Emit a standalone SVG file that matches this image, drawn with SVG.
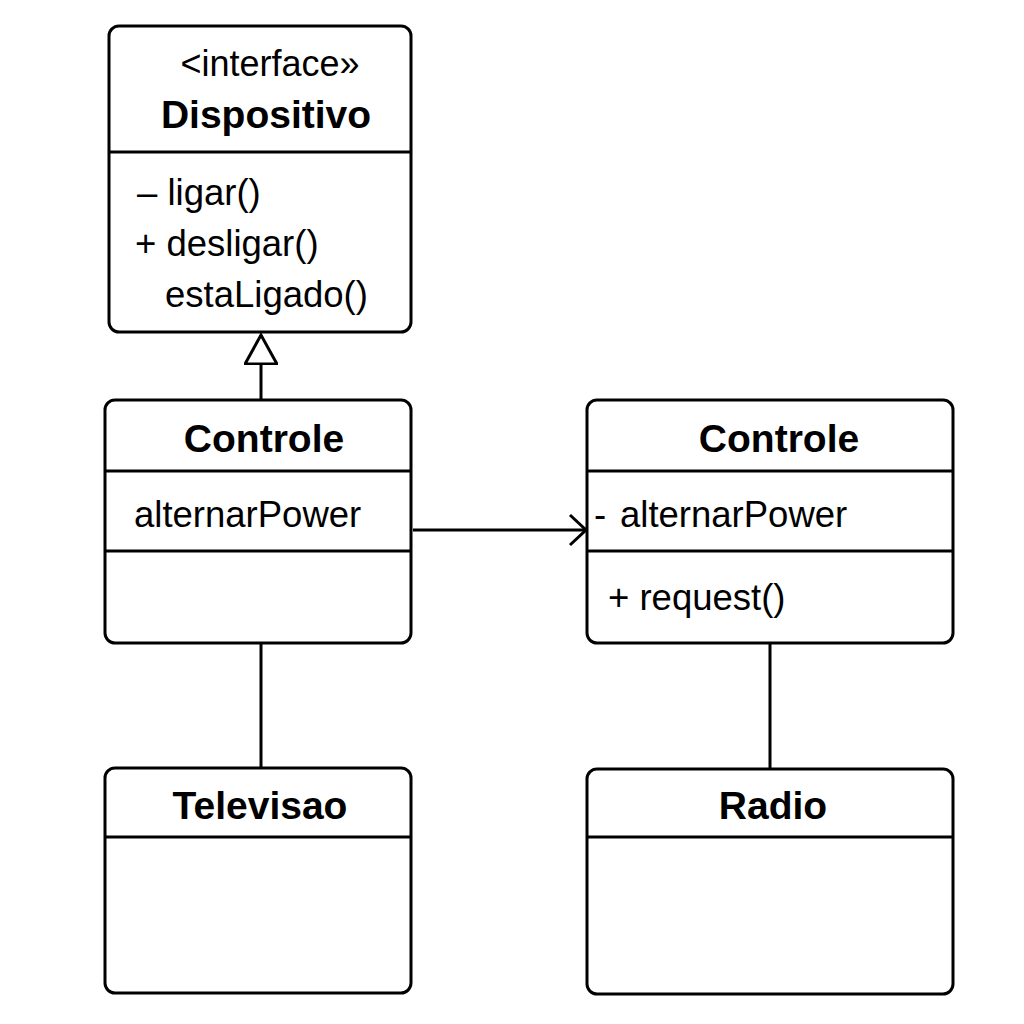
<svg xmlns="http://www.w3.org/2000/svg" width="1024" height="1024" viewBox="0 0 1024 1024">
<style>
.box{fill:#fff;stroke:#000;stroke-width:3}
.div{stroke:#000;stroke-width:3}
.t{font-family:"Liberation Sans",Arial,sans-serif;font-size:36.5px;fill:#000}
.b{font-family:"Liberation Sans",Arial,sans-serif;font-size:39px;font-weight:bold;fill:#000;text-anchor:middle}
.c{stroke:#000;stroke-width:3;fill:none}
</style>
<defs>
<marker id="tri" markerWidth="44" markerHeight="34" refX="30" refY="17" orient="auto" markerUnits="userSpaceOnUse">
<path d="M1,1 L30,17 L1,33 Z" fill="#fff" stroke="#000" stroke-width="3"/>
</marker>
<marker id="open" markerWidth="24" markerHeight="36" refX="18" refY="18" orient="auto" markerUnits="userSpaceOnUse">
<path d="M2,3 L18,18 L2,33" fill="none" stroke="#000" stroke-width="3"/>
</marker>
</defs>
<rect width="1024" height="1024" fill="#fff"/>
<g id="connectors">
<line class="c" x1="261" y1="400" x2="261" y2="335" marker-end="url(#tri)"/>
<line class="c" x1="413" y1="530" x2="586" y2="530" marker-end="url(#open)"/>
<line class="c" x1="261" y1="643" x2="261" y2="768"/>
<line class="c" x1="770" y1="643" x2="770" y2="769"/>
</g>
<g id="dispositivo">
<rect class="box" x="109" y="26" width="302" height="306" rx="10"/>
<line class="div" x1="109" y1="152" x2="411" y2="152"/>
<text class="t" x="270" y="76" text-anchor="middle" style="font-size:36px">&lt;interface»</text>
<text class="b" x="266" y="128">Dispositivo</text>
<text class="t" x="137" y="205">– ligar()</text>
<text class="t" x="135" y="256">+ desligar()</text>
<text class="t" x="165" y="307">estaLigado()</text>
</g>
<g id="controle1">
<rect class="box" x="105" y="400" width="306" height="243" rx="10"/>
<line class="div" x1="105" y1="471" x2="411" y2="471"/>
<line class="div" x1="105" y1="551" x2="411" y2="551"/>
<text class="b" x="264" y="452">Controle</text>
<text class="t" x="134" y="527">alternarPower</text>
</g>
<g id="controle2">
<rect class="box" x="587" y="400" width="366" height="243" rx="10"/>
<line class="div" x1="587" y1="471" x2="953" y2="471"/>
<line class="div" x1="587" y1="551" x2="953" y2="551"/>
<text class="b" x="779" y="452">Controle</text>
<text class="t" x="594" y="527">- <tspan x="620">alternarPower</tspan></text>
<text class="t" x="608" y="610">+ request()</text>
</g>
<g id="televisao">
<rect class="box" x="105" y="768" width="306" height="225" rx="10"/>
<line class="div" x1="105" y1="837" x2="411" y2="837"/>
<text class="b" x="260" y="819">Televisao</text>
</g>
<g id="radio">
<rect class="box" x="587" y="769" width="366" height="225" rx="10"/>
<line class="div" x1="587" y1="837" x2="953" y2="837"/>
<text class="b" x="773" y="819">Radio</text>
</g>
</svg>
